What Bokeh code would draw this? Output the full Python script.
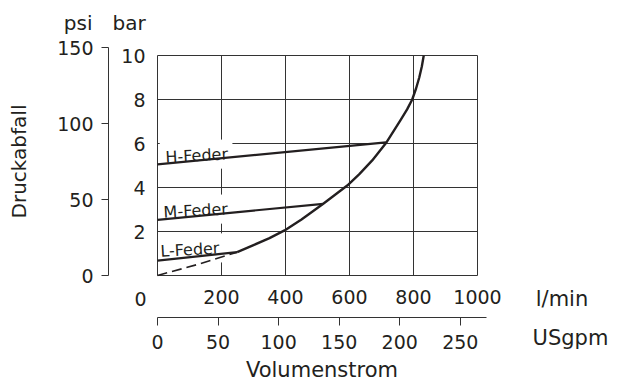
from bokeh.plotting import figure
from bokeh.models import LinearAxis, Range1d, FixedTicker, Label
from bokeh.core.properties import value
from bokeh.embed import file_html
from bokeh.resources import INLINE

# ---------------- data ----------------
# main pressure-drop curve (l/min, bar)
flow_dashed = [0, 125, 249]
drop_dashed = [0.0, 0.5, 1.06]
flow_curve = [249, 300, 350, 397, 450, 518, 593, 630, 671, 716, 759, 780, 796, 808, 818, 826, 832]
drop_curve = [1.06, 1.38, 1.70, 2.05, 2.55, 3.26, 4.09, 4.6, 5.23, 6.06, 7.05, 7.55, 8.0, 8.5, 9.0, 9.5, 10.0]

# spring characteristic lines
spring_names = ["H-Feder", "M-Feder", "L-Feder"]
spring_x0 = [0, 0, 0]
spring_y0 = [5.05, 2.53, 0.68]
spring_x1 = [714, 518, 249]
spring_y1 = [6.05, 3.26, 1.06]
spring_label_x = [25, 19, 9]
spring_label_y = [5.36, 2.86, 1.09]

# grid / box
grid_flow = [200, 400, 600, 800]
grid_bar = [2, 4, 6, 8]
box_flow = [0, 1000]
box_bar = [0, 10]

# ticks
bar_ticks = [2, 4, 6, 8, 10]
psi_ticks = [0, 50, 100, 150]
lmin_ticks = [0, 200, 400, 600, 800, 1000]
gpm_ticks = [0, 50, 100, 150, 200, 250]
gpm_axis_end = 272

PSI_PER_BAR = 14.5038
LMIN_PER_GPM = 3.785

# ---------------- style / layout ----------------
INK = "#231f20"
GRID = "#333333"
FONT = "DejaVu Sans"
W, H = 622, 380
LABEL_PAD = 5                       # px of white box around the spring labels

x_lo, x_hi = -490.625, 1453.125     # l/min across the canvas
y_lo, y_hi = -4.7727, 12.5          # bar across the canvas
psi_axis_at = -153.125              # l/min position of the psi axis line
gpm_axis_at = -1.909                # bar position of the USgpm axis line

p = figure(width=W, height=H, x_range=Range1d(x_lo, x_hi), y_range=Range1d(y_lo, y_hi),
           output_backend="svg", toolbar_location=None,
           x_axis_location=None, y_axis_location=None,
           min_border=0, outline_line_color=None,
           background_fill_color="white", border_fill_color="white")
p.grid.visible = False

p.extra_y_ranges = {"psi": Range1d(y_lo * PSI_PER_BAR, y_hi * PSI_PER_BAR)}
p.extra_x_ranges = {"gpm": Range1d(x_lo / LMIN_PER_GPM, x_hi / LMIN_PER_GPM)}

def style_axis(ax, size="19px"):
    ax.major_label_text_font = FONT
    ax.major_label_text_font_size = size
    ax.major_label_text_color = INK
    ax.minor_tick_line_color = None
    ax.axis_label_text_font = FONT
    ax.axis_label_text_font_size = "20px"
    ax.axis_label_text_font_style = "normal"
    ax.axis_label_text_color = INK

# psi axis
psi_axis = LinearAxis(y_range_name="psi", fixed_location=psi_axis_at,
                      bounds=(psi_ticks[0], psi_ticks[-1]),
                      ticker=FixedTicker(ticks=psi_ticks), axis_label="Druckabfall")
style_axis(psi_axis)
psi_axis.axis_line_color = GRID
psi_axis.major_tick_line_color = GRID
psi_axis.major_tick_out = 7
psi_axis.major_tick_in = 0
psi_axis.major_label_standoff = 8
psi_axis.axis_label_standoff = 23
p.add_layout(psi_axis, "left")

# bar labels at the box edge
bar_axis = LinearAxis(fixed_location=box_flow[0], ticker=FixedTicker(ticks=bar_ticks))
style_axis(bar_axis)
bar_axis.axis_line_color = None
bar_axis.major_tick_line_color = None
bar_axis.major_tick_out = 0
bar_axis.major_tick_in = 0
bar_axis.major_label_standoff = 12
p.add_layout(bar_axis, "left")

# l/min labels under the box
lmin_axis = LinearAxis(fixed_location=box_bar[0], ticker=FixedTicker(ticks=lmin_ticks[1:]))
style_axis(lmin_axis)
lmin_axis.axis_line_color = None
lmin_axis.major_tick_line_color = None
lmin_axis.major_tick_out = 0
lmin_axis.major_tick_in = 0
lmin_axis.major_label_standoff = 14
p.add_layout(lmin_axis, "below")

# USgpm axis
gpm_axis = LinearAxis(x_range_name="gpm", fixed_location=gpm_axis_at,
                      bounds=(gpm_ticks[0], gpm_axis_end),
                      ticker=FixedTicker(ticks=gpm_ticks), axis_label="Volumenstrom")
style_axis(gpm_axis)
gpm_axis.axis_label_text_font_size = "21px"
gpm_axis.axis_line_color = GRID
gpm_axis.major_tick_line_color = GRID
gpm_axis.major_tick_out = 8
gpm_axis.major_tick_in = 0
gpm_axis.major_label_standoff = 10
gpm_axis.axis_label_standoff = 5
p.add_layout(gpm_axis, "below")

# ---------------- grid + box ----------------
p.segment(x0=grid_flow, y0=[box_bar[0]] * len(grid_flow), x1=grid_flow, y1=[box_bar[1]] * len(grid_flow),
          line_color=GRID, line_width=1)
p.segment(x0=[box_flow[0]] * len(grid_bar), y0=grid_bar, x1=[box_flow[1]] * len(grid_bar), y1=grid_bar,
          line_color=GRID, line_width=1)

# spring labels (white box behind them interrupts the grid, as in the original)
p.text(x=spring_label_x, y=spring_label_y, text=spring_names, angle=0.055,
       x_offset=-LABEL_PAD,
       text_font=value(FONT), text_font_size=value("16px"), text_color=INK,
       text_align="left", text_baseline="alphabetic",
       background_fill_color="white", padding=LABEL_PAD)

p.quad(left=[box_flow[0]], right=[box_flow[1]], bottom=[box_bar[0]], top=[box_bar[1]],
       fill_color=None, line_color=GRID, line_width=1)

# ---------------- curves ----------------
p.segment(x0=spring_x0, y0=spring_y0, x1=spring_x1, y1=spring_y1, line_color=INK, line_width=2.2)
p.line(flow_curve, drop_curve, line_color=INK, line_width=2.4, line_join="round")
p.line(flow_dashed, drop_dashed, line_color=INK, line_width=1.6, line_dash="10 5")

# ---------------- header / unit labels ----------------
def lab(x, y, text, size="20px", align="center", **kw):
    p.add_layout(Label(x=x, y=y, text=text, text_font=FONT, text_font_size=size,
                       text_color=INK, text_align=align, text_baseline="alphabetic", **kw))

lab(-248, 11.50, "psi")
lab(-89, 11.50, "bar")
lab(lmin_ticks[0], -1.09, str(lmin_ticks[0]), size="19px", x_offset=-17)
lab(1264, -1.09, "l/min", size="21px")
lab(1172, -2.86, "USgpm", size="21px", align="left")

open("out.html", "w").write(file_html(p, INLINE))
